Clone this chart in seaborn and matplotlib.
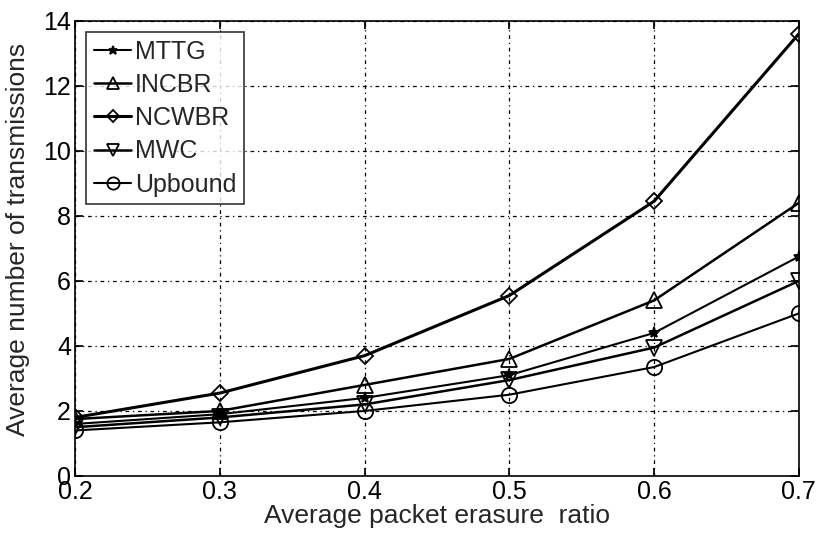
import matplotlib
matplotlib.use("Agg")
import matplotlib.pyplot as plt
import seaborn as sns
import pandas as pd

x = [0.2, 0.3, 0.4, 0.5, 0.6, 0.7]
mttg = [1.6, 1.9, 2.4, 3.1, 4.4, 6.75]
incbr = [1.75, 2.0, 2.8, 3.6, 5.4, 8.4]
ncwbr = [1.8, 2.55, 3.7, 5.55, 8.45, 13.6]
mwc = [1.5, 1.8, 2.2, 2.95, 3.95, 6.0]
upbound = [1.4, 1.65, 2.0, 2.5, 3.35, 5.0]

names = ["MTTG", "INCBR", "NCWBR", "MWC", "Upbound"]
series = [mttg, incbr, ncwbr, mwc, upbound]
markers = ["*", "^", "D", "v", "o"]
sizes = [8, 11, 8, 11, 11]
widths = [1.5, 1.8, 2.2, 1.8, 1.5]

sns.set_theme(style="white")
plt.rcParams["font.family"] = ["Liberation Sans", "DejaVu Sans"]

fig = plt.figure(figsize=(8.16, 5.33), dpi=100)
ax = fig.add_axes([0.092, 0.107, 0.887, 0.854])

for name, vals, m, s, w in zip(names, series, markers, sizes, widths):
    df = pd.DataFrame({"x": x, "y": vals})
    sns.lineplot(data=df, x="x", y="y", ax=ax, color="black", lw=w,
                 marker=m, markersize=s,
                 markerfacecolor="none" if m != "*" else "black",
                 markeredgecolor="black", markeredgewidth=1.3,
                 label=name)

ax.set_xlim(0.2, 0.7)
ax.set_ylim(0, 14)
ax.set_xticks(x)
ax.set_xticklabels(["0.2", "0.3", "0.4", "0.5", "0.6", "0.7"])
ax.set_yticks([0, 2, 4, 6, 8, 10, 12, 14])
ax.grid(True, color="black", linestyle=(0, (3, 3, 1, 3)), linewidth=0.9)
ax.tick_params(direction="in", length=6, labelsize=18, colors="black",
               top=True, right=True, bottom=True, left=True, pad=3)
for sp in ax.spines.values():
    sp.set_color("black")
    sp.set_linewidth(1.2)
ax.set_xlabel("Average packet erasure  ratio", fontsize=19, labelpad=0)
ax.set_ylabel("Average number of transmissions", fontsize=19)
ax.yaxis.set_label_coords(-0.062, 0.52)

leg = ax.legend(loc="upper left", fontsize=18, frameon=True, fancybox=False,
                edgecolor="black", handlelength=1.5, handletextpad=0.15,
                labelspacing=0.37, borderpad=0.3, borderaxespad=0.45,
                markerscale=0.8)
leg.get_frame().set_linewidth(1.2)

fig.savefig("out.png", dpi=100)
